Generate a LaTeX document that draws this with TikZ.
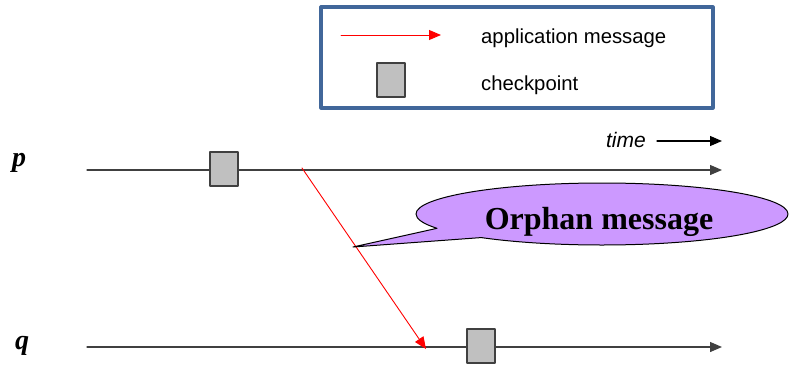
\documentclass[tikz,border=0pt]{standalone}
\usepackage{fontspec}
\setmainfont{Liberation Sans}
\newfontfamily\timesfont{Liberation Serif}
\usepackage{tikz}
\usetikzlibrary{arrows.meta,shapes.callouts}
\definecolor{FrameBlue}{HTML}{41679A}
\definecolor{CkptGray}{HTML}{C0C0C0}
\definecolor{BubbleViolet}{HTML}{CC99FF}
\newcommand{\MinorColor}{black!75}

\begin{document}
\begin{tikzpicture}[line cap=round,line join=round
  ,>={Triangle[length=12pt,width=10pt]},x=1pt,y=-1pt
  ,ckpt/.style={draw=\MinorColor,fill=CkptGray,line width=1.4pt
    ,minimum width=28pt,minimum height=34pt,inner sep=0pt}
  ,timeline/.style={->,draw=\MinorColor,line width=1.3pt}
  ,msg/.style={->,red,line width=0.9pt}
  ,proc/.style={font=\timesfont\fontsize{28}{30}\selectfont\bfseries\itshape
    ,anchor=base west,inner sep=0pt}
  ,legtext/.style={font=\fontsize{20.3}{24}\selectfont,anchor=west,inner sep=0pt}]
  \useasboundingbox (0,0) rectangle (789,367);
  % legend
  \draw[FrameBlue,line width=3.2pt] (321,7) rectangle (713,108);
  \coordinate (la) at (341,35);
  \coordinate (lb) at (441,35);
  \draw[msg] (la) -- (lb);
  \node[legtext] (ltxt1) at (481,38) {application message};
  \node[ckpt] (lckpt) at (391,80) {};
  \node[legtext] (ltxt2) at (481,85) {checkpoint};
  % processes
  \node[proc] (p) at (12,166) {p};
  \node[proc] (q) at (15,349) {q};
  \foreach \n/\y in {p/170,q/347}{
    \coordinate (\n0) at (87,\y);
    \coordinate (\n1) at (722,\y);
    \draw[timeline] (\n0) -- (\n1);
  }
  \node[ckpt] (cp) at (224,169) {};
  \node[ckpt] (cq) at (481,346) {};
  % time
  \node[font=\fontsize{21}{24}\selectfont\itshape,anchor=east,inner sep=0pt]
    (time) at (646,140) {time};
  \coordinate (t1) at (722,141);
  \draw[->,black,line width=1.2pt] ([xshift=11pt]time.east |- t1) -- (t1);
  % message
  \coordinate (send) at (302,168);
  \coordinate (recv) at (426,349);
  \draw[msg] (send) -- (recv);
  % orphan bubble
  \node[ellipse callout,draw=black,line width=1pt,fill=BubbleViolet
    ,minimum width=372pt,minimum height=62pt,inner sep=0pt
    ,callout pointer arc=22,callout absolute pointer={(353,247)}]
    (orphan) at (602,214) {};
  \node[font=\timesfont\fontsize{32}{34}\selectfont\bfseries,anchor=base
    ,inner sep=0pt] (otxt) at (599,229) {Orphan message};
\end{tikzpicture}
\end{document}
